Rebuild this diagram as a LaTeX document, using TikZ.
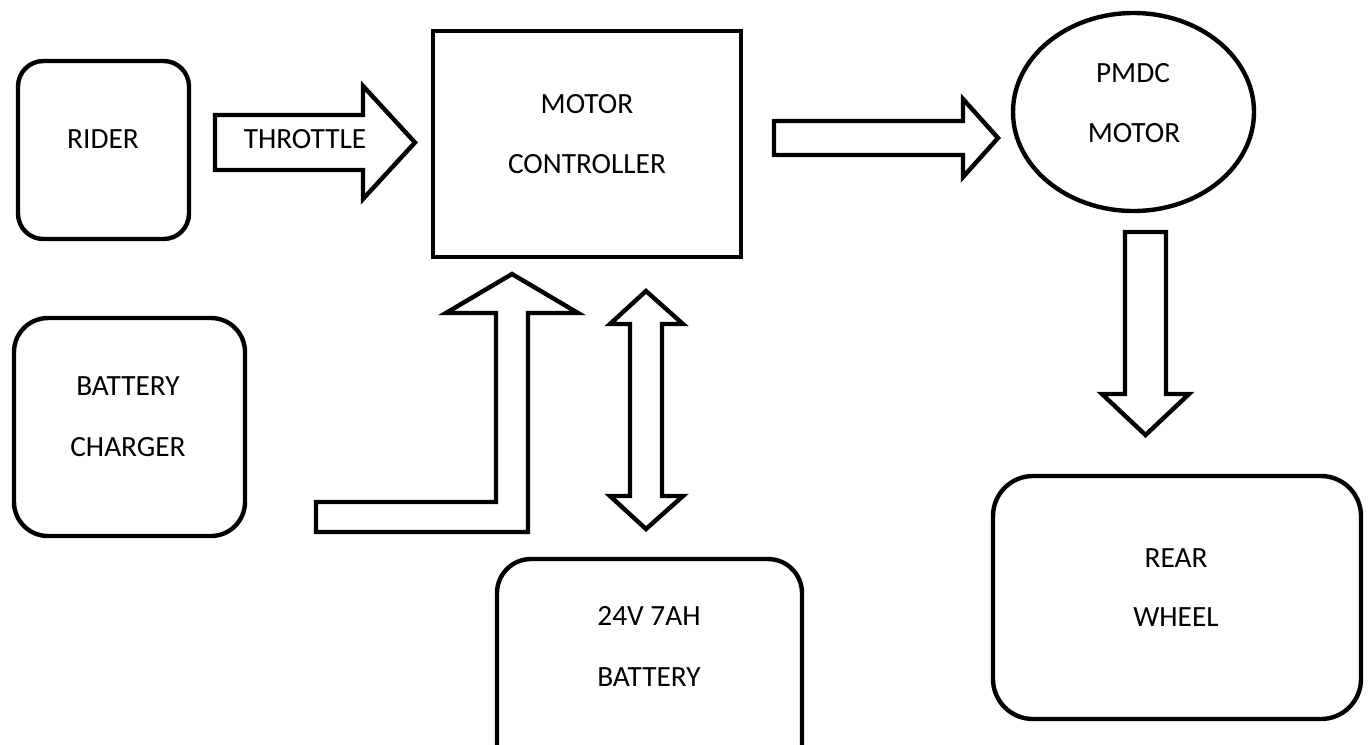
\documentclass[tikz,border=0pt]{standalone}
\usepackage{fontspec}
\setmainfont{Carlito}
\usetikzlibrary{shapes.geometric}
\begin{document}
\begin{tikzpicture}[x=0.75pt,y=-0.75pt,
  lw/.style={line width=3.3pt},
  rbox/.style={draw,lw,rounded corners=#1,inner sep=0pt},
  sbox/.style={draw,lw,inner sep=0pt},
  lbl/.style={inner sep=0pt,font=\fontsize{22}{26}\selectfont},
  barrow/.style={draw,lw,line join=miter}]
\useasboundingbox (0,0) rectangle (1370,744);
\clip (0,0) rectangle (1370,744);
\fill[white] (0,0) rectangle (1370,744);

% boxes
\node[rbox=19pt,minimum width=128.25pt,minimum height=133.5pt] (rider) at (103.5,150) {};
\node[sbox,minimum width=231pt,minimum height=169.5pt] (ctrl) at (587,144) {};
\node[draw,lw,ellipse,inner sep=0pt,minimum width=180.75pt,minimum height=148.5pt] (motor) at (1133.5,112) {};
\node[rbox=25.5pt,minimum width=173.25pt,minimum height=163.5pt] (charger) at (129.5,427) {};
\node[rbox=25.5pt,minimum width=228.75pt,minimum height=180.75pt] (battery) at (649.5,679.5) {};
\node[rbox=30pt,minimum width=276pt,minimum height=182.25pt] (wheel) at (1177,597.5) {};

% labels
\node[lbl] (riderT) at (103,139) {RIDER};
\node[lbl] (thrT) at (305,139) {THROTTLE};
\node[lbl] (ctrlA) at (587,104) {MOTOR};
\node[lbl] (ctrlB) at (587,164) {CONTROLLER};
\node[lbl] (motA) at (1133,73) {PMDC};
\node[lbl] (motB) at (1134,133) {MOTOR};
\node[lbl] (chgA) at (128,386) {BATTERY};
\node[lbl] (chgB) at (128,447) {CHARGER};
\node[lbl] (batA) at (649,616) {24V 7AH};
\node[lbl] (batB) at (649,677) {BATTERY};
\node[lbl] (whA) at (1176,558) {REAR};
\node[lbl] (whB) at (1176,617) {WHEEL};

% block arrows
\draw[barrow] (215,115) -- (363,115) -- (363,86) -- (415,142.5) -- (363,199) -- (363,170) -- (215,170) -- cycle;
\draw[barrow] (774,121) -- (963,121) -- (963,99) -- (998,138) -- (963,177) -- (963,155) -- (774,155) -- cycle;
\draw[barrow] (1125,232) -- (1166,232) -- (1166,394) -- (1189,394) -- (1145.5,435) -- (1102,394) -- (1125,394) -- cycle;
\draw[barrow] (646,291) -- (683,324) -- (662,324) -- (662,496) -- (683,496) -- (646,529) -- (610,496) -- (630,496) -- (630,324) -- (610,324) -- cycle;
\draw[barrow] (316,502) -- (496,502) -- (496,313) -- (446,313) -- (512,274) -- (578,313) -- (528,313) -- (528,532) -- (316,532) -- cycle;
\end{tikzpicture}
\end{document}
